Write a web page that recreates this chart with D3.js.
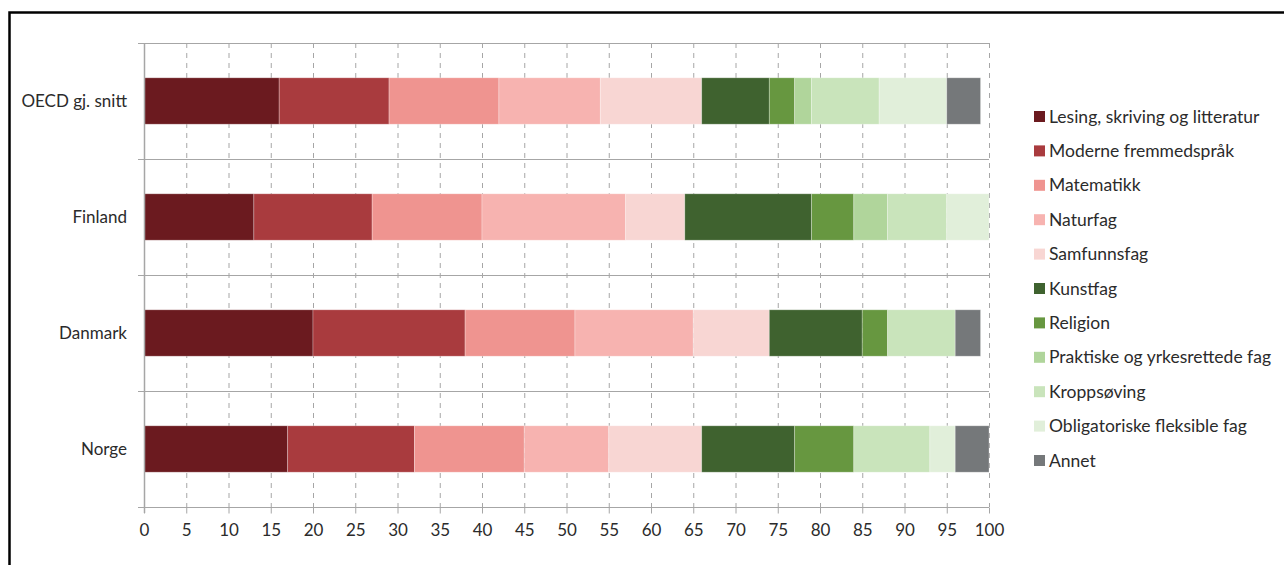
<!DOCTYPE html>
<html>
<head>
<meta charset="utf-8">
<script src="https://cdn.jsdelivr.net/npm/d3@7"></script>
<style>
  html, body { margin: 0; padding: 0; background: #fff; }
  svg { display: block; font-family: Lato, "Open Sans", sans-serif; }
</style>
</head>
<body>
<svg id="chart" width="1284" height="565"></svg>
<script>
// Countries, top to bottom
const countries = ["OECD gj. snitt", "Finland", "Danmark", "Norge"];

// Subjects (stack order, left to right) and their colours
const subjects = [
  "Lesing, skriving og litteratur",
  "Moderne fremmedspråk",
  "Matematikk",
  "Naturfag",
  "Samfunnsfag",
  "Kunstfag",
  "Religion",
  "Praktiske og yrkesrettede fag",
  "Kroppsøving",
  "Obligatoriske fleksible fag",
  "Annet"
];
const subjectColors = [
  "#6b1a1f", "#a93b3e", "#ef9490", "#f7b3b0", "#f8d6d3",
  "#3f622f", "#679740", "#b0d59b", "#c9e4bb", "#e1efda", "#75787a"
];

// Share of teaching time (%) per subject, one array per country
const oecd    = [16, 13, 13, 12, 12, 8, 3, 2, 8, 8, 4];
const finland = [13, 14, 13, 17, 7, 15, 5, 4, 7, 5, 0];
const danmark = [20, 18, 13, 14, 9, 11, 3, 0, 8, 0, 3];
const norge   = [17, 15, 13, 10, 11, 11, 7, 0, 9, 3, 4];

const xTicks = [0, 5, 10, 15, 20, 25, 30, 35, 40, 45, 50, 55, 60, 65, 70, 75, 80, 85, 90, 95, 100];

const rows = [oecd, finland, danmark, norge].map((vals, i) => {
  const r = { country: countries[i] };
  subjects.forEach((s, j) => { r[s] = vals[j]; });
  return r;
});

const svg = d3.select("#chart");
const textColor = "#2b2b2b";
const axisColor = "#a6a6a6";
const fontSize = 17;

// Outer frame
svg.append("rect")
  .attr("x", 9.5).attr("y", 12.5)
  .attr("width", 1400).attr("height", 700)
  .attr("fill", "none").attr("stroke", "#000").attr("stroke-width", 2.5);

const plotLeft = 144, plotRight = 989, plotTop = 43, plotBottom = 507;

const x = d3.scaleLinear().domain([0, 100]).range([plotLeft, plotRight]);
const y = d3.scaleBand().domain(countries).range([plotTop, plotBottom]).paddingInner(0.6).paddingOuter(0.3);
const yFull = d3.scaleBand().domain(countries).range([plotTop, plotBottom]);

// Dashed vertical gridlines
svg.append("g").selectAll("line")
  .data(xTicks.filter(t => t > 0))
  .join("line")
  .attr("x1", d => x(d) + 0.5).attr("x2", d => x(d) + 0.5)
  .attr("y1", plotTop).attr("y2", plotBottom)
  .attr("stroke", axisColor).attr("stroke-width", 1)
  .attr("stroke-dasharray", "5,5");

// Category separators (including the top edge)
const bounds = countries.map(c => yFull(c)).concat([plotBottom]);
svg.append("g").selectAll("line")
  .data(bounds)
  .join("line")
  .attr("x1", plotLeft - 6).attr("x2", plotRight)
  .attr("y1", d => Math.round(d) + 0.5).attr("y2", d => Math.round(d) + 0.5)
  .attr("stroke", axisColor).attr("stroke-width", 1);

// Stacked bars
const stack = d3.stack().keys(subjects);
const series = stack(rows);
svg.append("g").selectAll("g")
  .data(series)
  .join("g")
  .attr("fill", (d, i) => subjectColors[i])
  .selectAll("rect")
  .data(d => d)
  .join("rect")
  .attr("x", d => x(d[0]))
  .attr("y", d => y(d.data.country))
  .attr("width", d => x(d[1]) - x(d[0]))
  .attr("height", y.bandwidth())
  .attr("stroke", "rgba(255,255,255,0.35)")
  .attr("stroke-width", 0.8);

// X axis
const xAxis = svg.append("g")
  .attr("transform", `translate(0,${Math.round(plotBottom) + 0.5})`)
  .call(d3.axisBottom(x).tickValues(xTicks).tickSize(6).tickPadding(10).tickFormat(d3.format("d")));
xAxis.select(".domain").remove();
xAxis.selectAll(".tick line").attr("stroke", axisColor);
xAxis.selectAll(".tick text").attr("fill", textColor).attr("font-size", fontSize)
  .attr("font-family", "Lato, 'Open Sans', sans-serif");

// Y axis line
svg.append("line")
  .attr("x1", plotLeft + 0.5).attr("x2", plotLeft + 0.5)
  .attr("y1", plotTop).attr("y2", plotBottom + 6)
  .attr("stroke", axisColor).attr("stroke-width", 1.5);

// Country labels
svg.append("g").selectAll("text")
  .data(countries)
  .join("text")
  .attr("x", 127)
  .attr("y", d => yFull(d) + yFull.bandwidth() / 2)
  .attr("dy", "0.35em")
  .attr("text-anchor", "end")
  .attr("fill", textColor)
  .attr("font-size", fontSize)
  .text(d => d);

// Legend
const legend = svg.append("g").attr("transform", "translate(1034,116.5)");
const li = legend.selectAll("g")
  .data(subjects)
  .join("g")
  .attr("transform", (d, i) => `translate(0,${i * 34.4})`);
li.append("rect")
  .attr("x", 0).attr("y", -5.5)
  .attr("width", 11).attr("height", 11)
  .attr("fill", (d, i) => subjectColors[i]);
li.append("text")
  .attr("x", 15).attr("dy", "0.35em")
  .attr("fill", textColor)
  .attr("font-size", 17.5)
  .text(d => d);
</script>
</body>
</html>
